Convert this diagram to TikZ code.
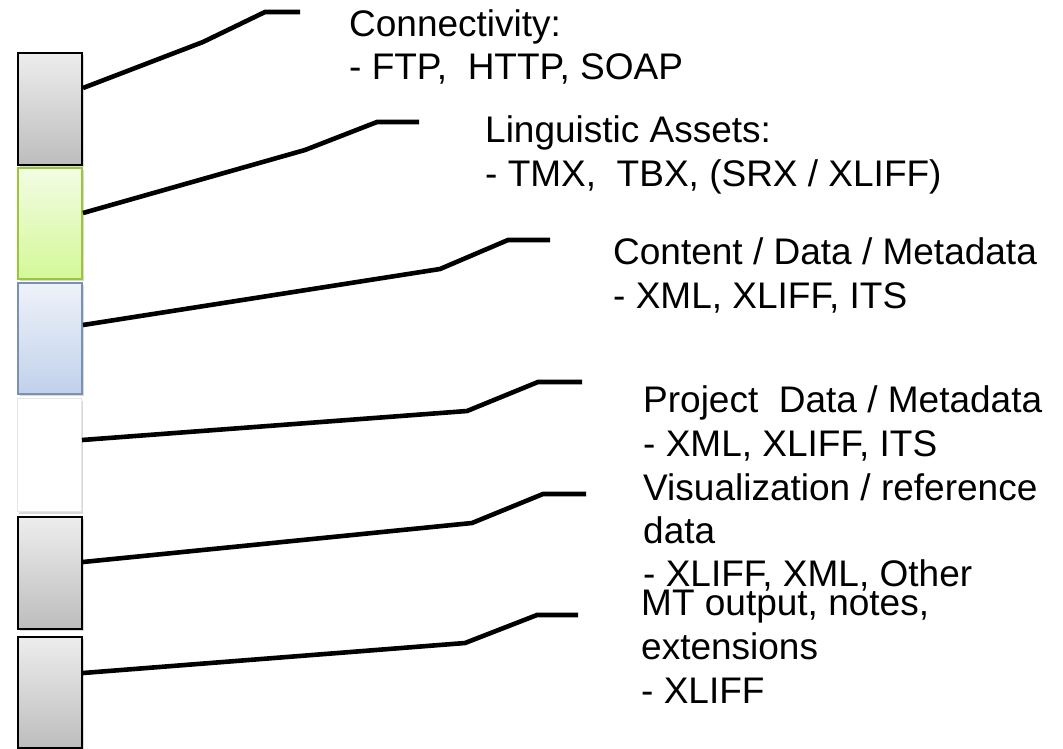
\documentclass[tikz,border=0pt]{standalone}
\usepackage{fontspec}
\setmainfont{Liberation Sans}
\usetikzlibrary{shadows}
\definecolor{gtop}{HTML}{EDEDED}
\definecolor{gbot}{HTML}{BDBDBD}
\definecolor{greentop}{HTML}{F2FCE4}
\definecolor{greenbot}{HTML}{D4F898}
\definecolor{greenline}{HTML}{9AC63A}
\definecolor{bluetop}{HTML}{EEF2F9}
\definecolor{bluebot}{HTML}{C1D1EB}
\definecolor{blueline}{HTML}{7891B5}
\begin{document}
\begin{tikzpicture}[x=1pt,y=-1pt,
  layer/.style={minimum width=64pt,inner sep=0pt,anchor=north west,line width=2pt,
    drop shadow={shadow xshift=1.5pt,shadow yshift=-2pt,opacity=0.3}},
  graylayer/.style={layer,draw=black,top color=gtop,bottom color=gbot},
  leader/.style={line width=4.6pt,line join=miter},
  lbl/.style={anchor=base west,inner sep=0pt,font=\fontsize{37pt}{44pt}\selectfont}]
\useasboundingbox (0,0) rectangle (1063,748);
% layers
\node[graylayer,minimum height=112pt] (b1) at (17,52) {};
\node[layer,draw=greenline,top color=greentop,bottom color=greenbot,minimum height=111pt] (b2) at (17,167) {};
\node[layer,draw=blueline,top color=bluetop,bottom color=bluebot,minimum height=111pt] (b3) at (17,282) {};
\node[layer,draw=black!10,line width=1pt,fill=white,minimum height=113pt] (b4) at (17,398) {};
\node[graylayer,minimum height=112pt] (b5) at (17,516) {};
\node[graylayer,minimum height=111pt] (b6) at (17,636) {};
% labels
\node[lbl] (t1a) at (349,36) {Connectivity:};
\node[lbl] (t1b) at (349,79) {- FTP,\ \ HTTP, SOAP};
\node[lbl] (t2a) at (485,142) {Linguistic Assets:};
\node[lbl] (t2b) at (485,186) {- TMX,\ \ TBX, (SRX / XLIFF)};
\node[lbl] (t3a) at (613,264) {Content / Data / Metadata};
\node[lbl] (t3b) at (613,308) {- XML, XLIFF, ITS};
\node[lbl] (t4a) at (643,412) {Project\ \ Data / Metadata};
\node[lbl] (t4b) at (643,456) {- XML, XLIFF, ITS};
\node[lbl] (t5a) at (643,500) {Visualization / reference};
\node[lbl] (t5b) at (643,543) {data};
\node[lbl] (t5c) at (643,586) {- XLIFF, XML, Other};
\node[lbl] (t6a) at (641,615) {MT output, notes,};
\node[lbl] (t6b) at (641,659) {extensions};
\node[lbl] (t6c) at (641,703) {- XLIFF};
% leader end points
\coordinate (e1) at (300,12);  \coordinate (e2) at (419,122);
\coordinate (e3) at (550,240); \coordinate (e4) at (582,382);
\coordinate (e5) at (586,494); \coordinate (e6) at (578,615);
% leaders
\draw[leader] ([yshift=-36pt]b1.north east) -- (203,42) -- (265,12) -- (e1);
\draw[leader] ([yshift=-46pt]b2.north east) -- (305,150) -- (377,122) -- (e2);
\draw[leader] ([yshift=-43pt]b3.north east) -- (440,269) -- (508,240) -- (e3);
\draw[leader] ([yshift=-42pt]b4.north east) -- (467,411) -- (538,382) -- (e4);
\draw[leader] ([yshift=-46pt]b5.north east) -- (472,523) -- (543,494) -- (e5);
\draw[leader] ([yshift=-37pt]b6.north east) -- (465,643) -- (537,615) -- (e6);
\end{tikzpicture}
\end{document}
